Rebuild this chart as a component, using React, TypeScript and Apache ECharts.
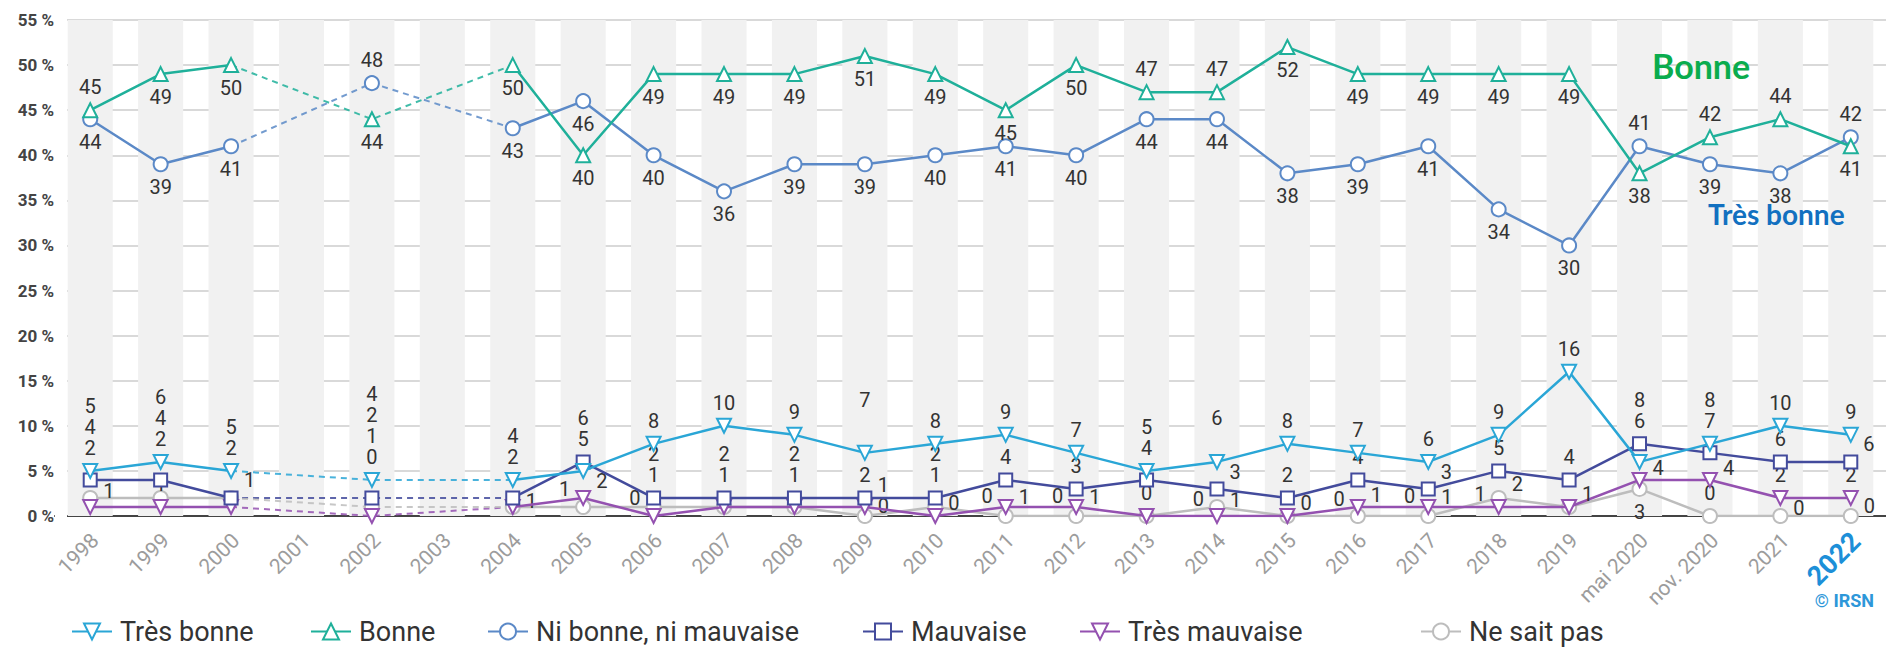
import React, { useEffect, useRef } from 'react';
import * as echarts from 'echarts';

const categories = ['1998','1999','2000','2001','2002','2003','2004','2005','2006','2007','2008','2009','2010','2011','2012','2013','2014','2015','2016','2017','2018','2019','mai 2020','nov. 2020','2021','2022'];

const tresBonne = [5,6,5,null,4,null,4,5,8,10,9,7,8,9,7,5,6,8,7,6,9,16,6,8,10,9];
const bonne = [45,49,50,null,44,null,50,40,49,49,49,51,49,45,50,47,47,52,49,49,49,49,38,42,44,41];
const niBonne = [44,39,41,null,48,null,43,46,40,36,39,39,40,41,40,44,44,38,39,41,34,30,41,39,38,42];
const mauvaise = [4,4,2,null,2,null,2,6,2,2,2,2,2,4,3,4,3,2,4,3,5,4,8,7,6,6];
const tresMauvaise = [1,1,1,null,0,null,1,2,0,1,1,1,0,1,1,0,0,0,1,1,1,1,4,4,2,2];
const neSaitPas = [2,2,2,null,1,null,1,1,1,1,1,0,1,0,0,0,1,0,0,0,2,1,3,0,0,0];

const yTicks = { min: 0, max: 55, interval: 5 };

// label placement (style only)
const bonneLbl = ['t','b','b','','b','','b','b','b','b','b','b','b','b','b','t','t','b','b','b','b','b','b','t','t','b'];
const niBonneLbl = ['b','b','b','','t','','b','b','b','b','b','b','b','b','b','b','b','b','b','b','b','b','t','b','b','t'];
const tresBonneLbl = ['X:2','X:2','X:1','','X:3','','X:1','X:0','T:0','T:0','T:0','T:1.4','T:0','T:0','T:0','X:1','T:1','T:0','T:0','T:0','T:0','T:0','X:0','X:1','T:0','T:0'];
const mauvaiseLbl = ['X:1','X:1','X:0','','X:2','','X:0','X:1','M:1','M:1','M:1','M:0','M:1','M:0','M:0','X:0','r:-17','M:0','M:0','r:-17','M:0','M:0','X:1','X:0','M:0','r:-18'];
const neSaitPasLbl = ['X:0','X:0','','','X:1','','r:-6','l:-18','M:0','M:0','M:0','r:-10','M:0','l:-20','l:-20','t','r:-7','','l:-17','l:-20','r:-14','','b','t','r:-8','r:-10'];
const tresMauvaiseLbl = ['r:-16','t','r:-27','','X:0','','','r:-17','l:-18','','','r:-22','r:-13','r:-10','r:-10','','l:-17','r:-13','r:-12','r:-10','l:-13','r:-13','r:-12','r:-12','t','t'];

// legend item left positions (layout only)
const legendLefts = [71, 310, 487, 862, 1079, 1420];

const PX = 9.02; // pixels per 1 %
const STEP = 21;

const C = {
  tb: '#2aa6d6',
  b: '#1fb09a',
  nb: '#5b89c7',
  m: '#434b9c',
  tm: '#9451b0',
  nsp: '#bdbdbd',
};

export default function App() {
  const ref = useRef<HTMLDivElement>(null);
  useEffect(() => {
    if (!ref.current) return;
    const chart = echarts.init(ref.current, null, { renderer: 'svg' });

    const maxLower = categories.map((_, i) => {
      const vals = [tresBonne[i], mauvaise[i], neSaitPas[i], tresMauvaise[i]].filter((v) => v != null) as number[];
      return vals.length ? Math.max(...vals) : 0;
    });

    const makeLabel = (code: string, i: number, own: number): any => {
      if (!code) return { show: false };
      const [kind, num] = code.split(':');
      const n = num ? parseFloat(num) : 0;
      if (kind === 'X' || kind === 'T' || kind === 'M') {
        const anchorV = kind === 'X' ? maxLower[i] : kind === 'M' ? (mauvaise[i] as number) : own;
        return { show: true, position: 'top', offset: [0, -(anchorV - own) * PX - STEP * n] };
      }
      if (kind === 't') return { show: true, position: 'top' };
      if (kind === 'b') return { show: true, position: 'bottom' };
      if (kind === 'r') return { show: true, position: 'right', offset: [0, n] };
      if (kind === 'l') return { show: true, position: 'left', offset: [0, n] };
      return { show: false };
    };

    const buildData = (vals: (number | null)[], lbl: string[]) =>
      vals.map((v, i) => (v == null ? null : { value: v, label: makeLabel(lbl[i], i, v) }));

    const bridge = (vals: (number | null)[]) =>
      vals.map((v, i) => {
        const near = (i > 0 && vals[i - 1] == null) || (i < vals.length - 1 && vals[i + 1] == null);
        return v == null ? null : near ? v : null;
      });

    const defs = [
      { name: 'Très bonne', vals: tresBonne, lbl: tresBonneLbl, color: C.tb, symbol: 'emptyTriangle', rotate: 180 },
      { name: 'Bonne', vals: bonne, lbl: bonneLbl, color: C.b, symbol: 'emptyTriangle', rotate: 0 },
      { name: 'Ni bonne, ni mauvaise', vals: niBonne, lbl: niBonneLbl, color: C.nb, symbol: 'emptyCircle', rotate: 0 },
      { name: 'Mauvaise', vals: mauvaise, lbl: mauvaiseLbl, color: C.m, symbol: 'emptyRect', rotate: 0 },
      { name: 'Très mauvaise', vals: tresMauvaise, lbl: tresMauvaiseLbl, color: C.tm, symbol: 'emptyTriangle', rotate: 180 },
      { name: 'Ne sait pas', vals: neSaitPas, lbl: neSaitPasLbl, color: C.nsp, symbol: 'emptyCircle', rotate: 0 },
    ];

    const zMain: Record<string, number> = {
      'Ne sait pas': 3, 'Très mauvaise': 4, 'Mauvaise': 5, 'Ni bonne, ni mauvaise': 6, 'Bonne': 7, 'Très bonne': 8,
    };

    const series: any[] = [
      {
        type: 'bar',
        name: 'stripes',
        data: categories.map(() => yTicks.max),
        barWidth: '64%',
        itemStyle: { color: '#f1f1f1' },
        silent: true,
        z: 0,
        label: { show: false },
      },
    ];

    defs.forEach((d) => {
      series.push({
        type: 'line',
        name: d.name + '-gap',
        data: bridge(d.vals),
        connectNulls: true,
        showSymbol: false,
        symbol: 'none',
        silent: true,
        lineStyle: { color: d.color, width: 2, type: [6, 5], opacity: 0.85 },
        z: 2,
        label: { show: false },
      });
    });

    defs.forEach((d) => {
      series.push({
        type: 'line',
        name: d.name,
        data: buildData(d.vals, d.lbl),
        connectNulls: false,
        symbol: d.symbol,
        symbolRotate: d.rotate,
        symbolSize: d.symbol === 'emptyRect' ? 13 : 14,
        showAllSymbol: true,
        color: d.color,
        itemStyle: { color: d.color, borderWidth: 2.5 },
        lineStyle: { color: d.color, width: 2.5 },
        label: {
          show: true,
          color: '#333',
          fontSize: 20,
          fontFamily: 'Roboto',
          distance: 5,
        },
        z: zMain[d.name],
      });
    });

    const legends = defs.map((d, i) => ({
      data: [d.name],
      left: legendLefts[i],
      top: 618,
      padding: 0,
      itemWidth: 40,
      itemHeight: 20,
      textStyle: { fontSize: 27, color: '#333', fontFamily: 'Roboto', padding: [0, 0, 0, 3] },
    }));

    chart.setOption({
      animation: false,
      backgroundColor: '#ffffff',
      textStyle: { fontFamily: 'Roboto' },
      grid: { left: 55, right: -8, top: 20, bottom: 131, containLabel: false },
      legend: legends,
      xAxis: {
        type: 'category',
        data: categories,
        boundaryGap: true,
        axisTick: { show: false },
        axisLine: { lineStyle: { color: '#444', width: 2 } },
        axisLabel: {
          interval: 0,
          rotate: 45,
          margin: 26,
          color: '#9c9c9c',
          fontSize: 21,
          fontFamily: 'Roboto',
          padding: [0, -7, 0, 0],
          formatter: (v: string, i: number) => (i === categories.length - 1 ? '{h|' + v + '}' : v),
          rich: {
            h: { fontSize: 27, fontWeight: 'bold', color: '#1d8fd8', fontFamily: 'Roboto' },
          },
        },
      },
      yAxis: {
        type: 'value',
        min: yTicks.min,
        max: yTicks.max,
        interval: yTicks.interval,
        axisLine: { show: false },
        axisTick: { show: false },
        axisLabel: {
          formatter: '{value} %',
          color: '#444',
          fontSize: 17,
          fontWeight: 'bold',
          margin: 1,
          fontFamily: 'Roboto',
        },
        splitLine: { lineStyle: { color: '#cccccc', width: 1.5 } },
      },
      graphic: [
        {
          type: 'rect',
          left: 55,
          top: 10,
          shape: { width: 12, height: 512 },
          style: { fill: '#ffffff' },
          silent: true,
          z: 1,
        },
        {
          type: 'text',
          left: 1652,
          top: 48,
          style: { text: 'Bonne', fill: '#0aac4e', font: 'bold 34px Lato' },
          z: 100,
        },
        {
          type: 'text',
          left: 1708,
          top: 200,
          style: { text: 'Très bonne', fill: '#1270c0', font: 'bold 28px Lato' },
          z: 100,
        },
        {
          type: 'text',
          right: 12,
          top: 591,
          style: { text: '© IRSN', fill: '#2d97d9', font: 'bold 18px Roboto' },
          z: 100,
        },
      ],
      series,
    });

    return () => chart.dispose();
  }, []);

  return (
    <div
      ref={ref}
      style={{ position: 'fixed', left: 0, top: 0, width: 1886, height: 647, background: '#fff' }}
    />
  );
}
